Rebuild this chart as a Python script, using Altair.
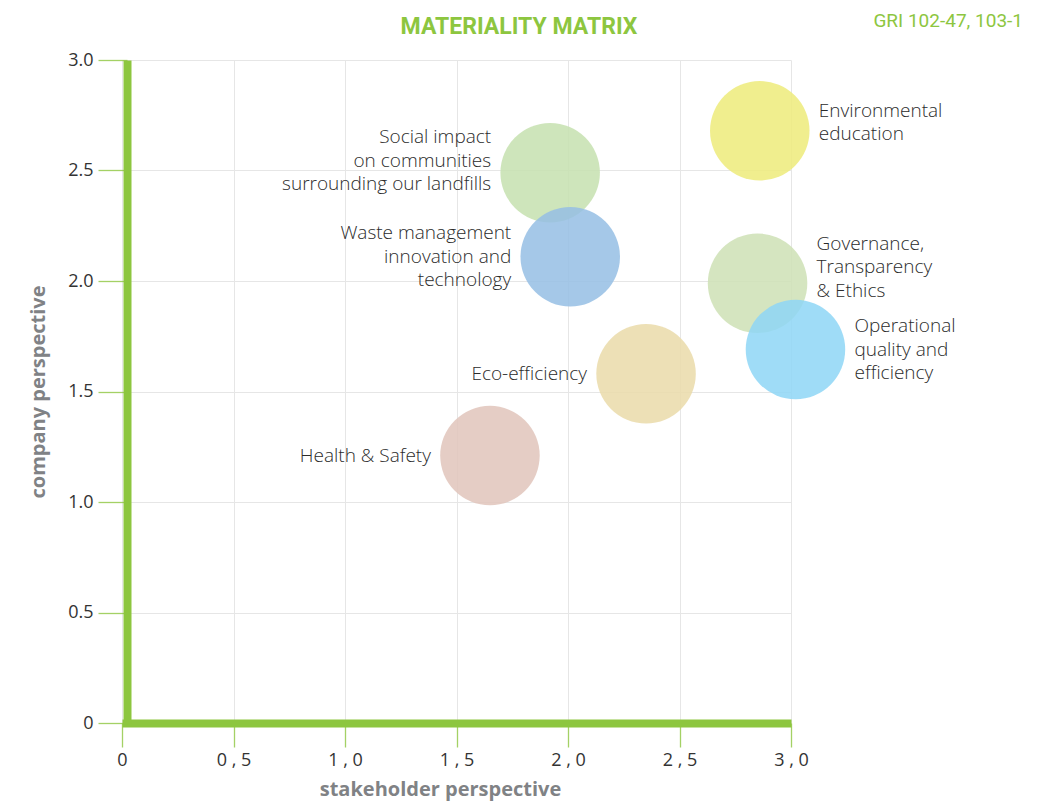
import altair as alt
import pandas as pd

# ---- data ----
topics = [
    "Environmental\neducation",
    "Social impact\non communities\nsurrounding our landfills",
    "Waste management\ninnovation and\ntechnology",
    "Governance,\nTransparency\n& Ethics",
    "Operational\nquality and\nefficiency",
    "Eco-efficiency",
    "Health & Safety",
]
stakeholder = [2.86, 1.92, 2.01, 2.85, 3.02, 2.35, 1.65]
company = [2.68, 2.49, 2.11, 1.99, 1.69, 1.58, 1.21]

# ---- styling ----
bubble_colors = ["#edeb7a", "#c6e0af", "#95bee4", "#cee1b5", "#8ed6f6", "#eadaa9", "#e0c4bb"]
label_side = ["right", "left", "left", "right", "right", "left", "left"]
label_tweak = [-8, -12, 0, -16, 0, 0, 0]   # pixels, negative = up
LINE_H = 23.5
W, H = 669, 663
PX_PER_UNIT = H / 3.0

GREEN = "#8dc63f"
FONT = "Open Sans"

n_lines = [t.count("\n") + 1 for t in topics]
df = pd.DataFrame({
    "topic": topics,
    "stakeholder": stakeholder,
    "company": company,
    "color": bubble_colors,
    "side": label_side,
    "shift": [tw - (n - 1) * LINE_H / 2 for tw, n in zip(label_tweak, n_lines)],
    "order": list(range(len(topics))),
})

x_enc = alt.X(
    "stakeholder:Q",
    scale=alt.Scale(domain=[0, 3], nice=False),
    axis=alt.Axis(
        values=[0, 0.5, 1, 1.5, 2, 2.5, 3],
        labelExpr="datum.value == 0 ? '0' : replace(format(datum.value, '.1f'), '.', ' , ')",
        labelFlush=False,
        title="stakeholder perspective",
        titleFont=FONT, titleFontWeight="bold", titleFontSize=20, titleColor="#808285",
        titlePadding=10, titleX=318,
        labelFont=FONT, labelFontSize=18, labelColor="#333333", labelPadding=4,
        tickColor=GREEN, tickSize=24, tickWidth=1.3, tickOpacity=0.8,
        domainColor=GREEN, domainWidth=8,
        grid=True, gridColor="#e6e6e6", gridWidth=1,
    ),
)
y_scale = alt.Scale(domain=[0, 3], nice=False)
y_enc = alt.Y(
    "company:Q",
    scale=y_scale,
    axis=alt.Axis(
        values=[0, 0.5, 1, 1.5, 2, 2.5, 3],
        labelExpr="datum.value == 0 ? '0' : format(datum.value, '.1f')",
        title="company perspective",
        titleFont=FONT, titleFontWeight="bold", titleFontSize=20, titleColor="#808285",
        titlePadding=19,
        labelFont=FONT, labelFontSize=18, labelColor="#333333", labelPadding=5,
        tickColor=GREEN, tickSize=29, tickWidth=1.3, tickOpacity=0.8,
        domainColor=GREEN, domainWidth=8, offset=-5,
        grid=True, gridColor="#e6e6e6", gridWidth=1,
    ),
)

bubbles = alt.Chart(df).mark_circle(size=9900, opacity=0.85, stroke=None).encode(
    x=x_enc,
    y=y_enc,
    color=alt.Color("color:N", scale=None),
    order=alt.Order("order:Q"),
)

text_common = dict(font=FONT, fontSize=19, fontWeight=300, color="#2b2b2b",
                   lineBreak="\n", lineHeight=LINE_H, baseline="middle")

base_text = alt.Chart(df).transform_calculate(
    label_y=f"datum.company - datum.shift / {PX_PER_UNIT}"
)

labels_right = base_text.transform_filter(alt.datum.side == "right").mark_text(
    align="left", dx=59, **text_common
).encode(
    x="stakeholder:Q", y=alt.Y("label_y:Q", scale=y_scale), text="topic:N",
)
labels_left = base_text.transform_filter(alt.datum.side == "left").mark_text(
    align="right", dx=-59, **text_common
).encode(
    x="stakeholder:Q", y=alt.Y("label_y:Q", scale=y_scale), text="topic:N",
)

gri = alt.Chart(pd.DataFrame({"t": ["GRI 102-47, 103-1"]})).mark_text(
    align="right", baseline="top", font="Roboto", fontSize=19, color=GREEN
).encode(x=alt.value(901), y=alt.value(-48), text="t:N")

title = alt.Chart(pd.DataFrame({"t": ["MATERIALITY MATRIX"]})).mark_text(
    align="center", baseline="middle", font="Roboto", fontSize=23, fontWeight="bold",
    color=GREEN
).encode(x=alt.value(397), y=alt.value(-33), text="t:N")

chart = alt.layer(bubbles, labels_left, labels_right, gri, title).properties(
    width=W,
    height=H,
    autosize=alt.AutoSizeParams(type="none"),
    padding={"left": 114, "top": 52, "right": 240, "bottom": 79},
).configure_view(stroke=None)

chart.save("out.html", embed_options={"renderer": "svg", "actions": False})
